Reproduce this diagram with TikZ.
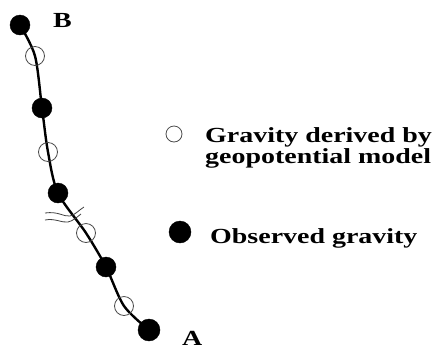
\documentclass[tikz,border=0pt]{standalone}
\usepackage{fontspec}
\newfontfamily\labf[FakeStretch=1.3]{Liberation Serif}
\begin{document}
\begin{tikzpicture}[x=1pt,y=1pt,
  obs/.style={circle,fill=black,draw=black,inner sep=0pt,minimum size=20pt},
  der/.style={circle,draw=black!70,line width=0.8pt,inner sep=0pt,minimum size=19pt},
  lab/.style={inner sep=0pt,anchor=base west,font=\labf\bfseries\fontsize{21.5}{24}\selectfont},
  brk/.style={draw=black!75,line width=0.8pt}]
\useasboundingbox (0,0) rectangle (433,-349);
% plotted points
\coordinate (p1) at (20,-25);
\coordinate (p2) at (35,-56);
\coordinate (p3) at (42,-108);
\coordinate (p4) at (48,-152);
\coordinate (p5) at (58,-193);
\coordinate (p6) at (86,-233);
\coordinate (p7) at (106,-267);
\coordinate (p8) at (124,-306);
\coordinate (p9) at (149,-330);
\draw[line width=2.4pt] plot[smooth,tension=0.5] coordinates {(p1) (p2) (p3) (p4) (p5) (p6) (p7) (p8) (p9)};
% break marks
\draw[brk] (45,-213) .. controls (58,-211) and (64,-217) .. (70,-216) .. controls (75,-215) and (79,-210) .. (84,-207);
\draw[brk] (45,-220) .. controls (55,-218) and (62,-223) .. (68,-222) .. controls (73,-221) and (77,-217) .. (81,-214);
\node[obs] (b) at (p1) {};
\node[der] (d1) at (p2) {};
\node[obs] (o2) at (p3) {};
\node[der] (d2) at (p4) {};
\node[obs] (o3) at (p5) {};
\node[der] (d3) at (p6) {};
\node[obs] (o4) at (p7) {};
\node[der] (d4) at (p8) {};
\node[obs,minimum size=22pt] (a) at (p9) {};
\node[lab] (lb) at (53,-27) {B};
\node[lab] (la) at (182,-345) {A};
% legend
\node[der,minimum size=16pt] (legd) at (174,-134) {};
\node[lab] (t1) at (205,-142) {Gravity derived by};
\node[lab] (t2) at (205,-163) {geopotential model};
\node[obs,minimum size=22pt] (lego) at (180,-232) {};
\node[lab] (t3) at (210,-243) {Observed gravity};
\end{tikzpicture}
\end{document}
